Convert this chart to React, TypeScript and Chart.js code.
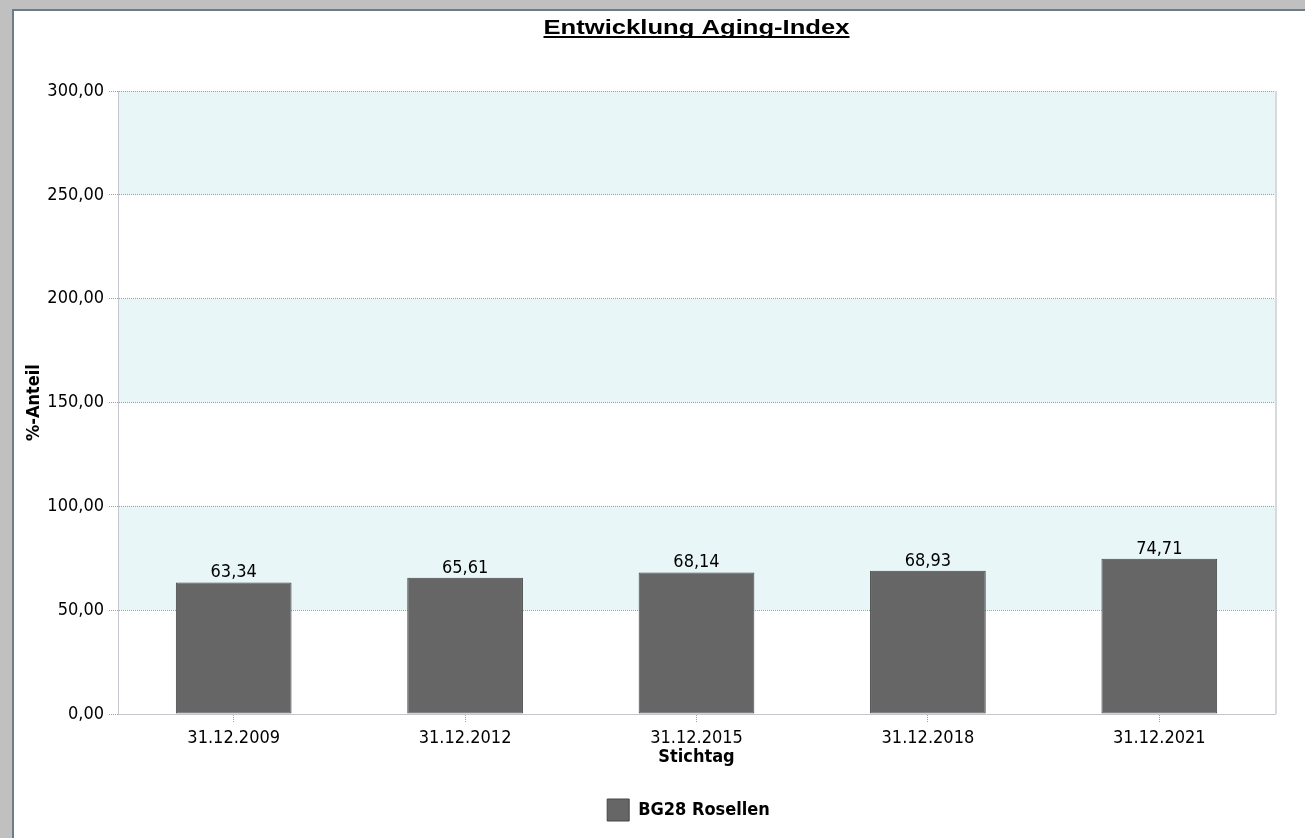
import React, { useEffect, useRef } from 'react';
import { Chart, registerables } from 'chart.js';

Chart.register(...registerables);

const chartTitle = 'Entwicklung Aging-Index';
const categories = ['31.12.2009', '31.12.2012', '31.12.2015', '31.12.2018', '31.12.2021'];
const values = [63.34, 65.61, 68.14, 68.93, 74.71];
const seriesName = 'BG28 Rosellen';
const yAxisTitle = '%-Anteil';
const xAxisTitle = 'Stichtag';
const yMin = 0;
const yMax = 300;
const yStep = 50;
const shadedBands = [
  [50, 100],
  [150, 200],
  [250, 300],
];

const fmt = (v: number) => v.toFixed(2).replace('.', ',');

const FONT = "'DejaVu Sans Condensed', 'DejaVu Sans', sans-serif";
const TITLE_FONT = "'Liberation Sans', Arial, sans-serif";

const decorPlugin = {
  id: 'decor',
  afterLayout(chart: any) {
    const lg = chart.legend;
    if (lg) {
      lg.left -= 8;
      lg.right -= 8;
    }
  },
  beforeDraw(chart: any) {
    const { ctx, chartArea: a, scales } = chart;
    const y = scales.y;
    ctx.save();
    ctx.fillStyle = '#e8f6f8';
    for (const [lo, hi] of shadedBands) {
      const top = y.getPixelForValue(hi);
      const bot = y.getPixelForValue(lo);
      ctx.fillRect(a.left, top, a.right - a.left, bot - top);
    }
    ctx.strokeStyle = '#d6dadd';
    ctx.lineWidth = 2;
    ctx.beginPath();
    ctx.moveTo(a.right + 1, a.top);
    ctx.lineTo(a.right + 1, a.bottom);
    ctx.stroke();
    ctx.restore();
  },
  afterDatasetsDraw(chart: any) {
    const { ctx } = chart;
    const meta = chart.getDatasetMeta(0);
    ctx.save();
    ctx.font = `18px ${FONT}`;
    ctx.fillStyle = '#000';
    ctx.textAlign = 'center';
    ctx.textBaseline = 'alphabetic';
    meta.data.forEach((bar: any, i: number) => {
      const v = chart.data.datasets[0].data[i] as number;
      ctx.fillText(fmt(v), bar.x, bar.y - 5);
    });
    ctx.restore();
  },
  afterDraw(chart: any) {
    const { ctx, chartArea: a } = chart;
    const sx = 1.22;
    ctx.save();
    ctx.font = `bold 21px ${TITLE_FONT}`;
    ctx.fillStyle = '#000';
    ctx.textAlign = 'left';
    ctx.textBaseline = 'alphabetic';
    const w = ctx.measureText(chartTitle).width * sx;
    const cx = (a.left + a.right) / 2;
    const x0 = cx - w / 2;
    ctx.translate(x0, 0);
    ctx.scale(sx, 1);
    ctx.fillText(chartTitle, 0, 23);
    ctx.restore();
    ctx.save();
    ctx.fillStyle = '#000';
    ctx.fillRect(x0, 25, w, 2);
    ctx.restore();
  },
};

export default function App() {
  const ref = useRef<HTMLCanvasElement | null>(null);

  useEffect(() => {
    if (!ref.current) return;
    const chart = new Chart(ref.current, {
      type: 'bar',
      data: {
        labels: categories,
        datasets: [
          {
            label: seriesName,
            data: values,
            backgroundColor: '#666666',
            borderColor: '#474747',
            borderWidth: 1,
            borderSkipped: false,
            barPercentage: 0.5,
            categoryPercentage: 1,
          },
        ],
      },
      options: {
        responsive: false,
        maintainAspectRatio: false,
        animation: false,
        layout: { padding: { top: 80, left: 0, right: 30, bottom: 7 } },
        plugins: {
          title: { display: false },
          tooltip: { enabled: false },
          legend: {
            position: 'bottom',
            fullSize: false,
            labels: {
              boxWidth: 22,
              boxHeight: 22,
              padding: 20,
              color: '#000',
              font: { family: FONT, size: 18, weight: 'bold' },
            },
          },
        },
        scales: {
          x: {
            afterFit: (s: any) => {
              s.height = 65;
            },
            grid: {
              offset: false,
              drawOnChartArea: false,
              drawTicks: true,
              tickLength: 8,
              tickColor: '#a0a0a0',
              tickBorderDash: [1, 1],
            },
            border: { color: '#c4c8cc', width: 1 },
            ticks: {
              color: '#000',
              padding: 6,
              maxRotation: 0,
              font: { family: FONT, size: 18 },
            },
            title: {
              display: true,
              text: xAxisTitle,
              color: '#000',
              font: { family: FONT, size: 18, weight: 'bold' },
              padding: { top: 0, bottom: 11 },
            },
          },
          y: {
            min: yMin,
            max: yMax,
            afterFit: (s: any) => {
              s.width = 104;
            },
            ticks: {
              stepSize: yStep,
              color: '#000',
              padding: 5,
              font: { family: FONT, size: 18 },
              callback: (v: any) => fmt(Number(v)),
            },
            grid: {
              color: '#a0a0a0',
              lineWidth: 1,
              tickLength: 9,
              drawTicks: true,
              tickColor: '#a0a0a0',
              tickBorderDash: [1, 1],
            },
            border: { color: '#c4c8cc', width: 1, dash: [1, 1] },
            title: {
              display: true,
              text: yAxisTitle,
              color: '#000',
              font: { family: FONT, size: 18, weight: 'bold' },
              padding: { top: 10, bottom: 0 },
            },
          },
        },
      },
      plugins: [decorPlugin],
    } as any);
    return () => chart.destroy();
  }, []);

  return (
    <div
      style={{
        position: 'fixed',
        left: 0,
        top: 0,
        width: 1305,
        height: 838,
        background: '#c0c0c0',
        overflow: 'hidden',
      }}
    >
      <div
        style={{
          position: 'absolute',
          left: 12,
          top: 9,
          width: 1293,
          height: 829,
          borderLeft: '2px solid #6d7c87',
          borderTop: '2px solid #6d7c87',
          background: '#fff',
        }}
      >
        <canvas ref={ref} width={1291} height={827} style={{ display: 'block' }} />
      </div>
    </div>
  );
}
